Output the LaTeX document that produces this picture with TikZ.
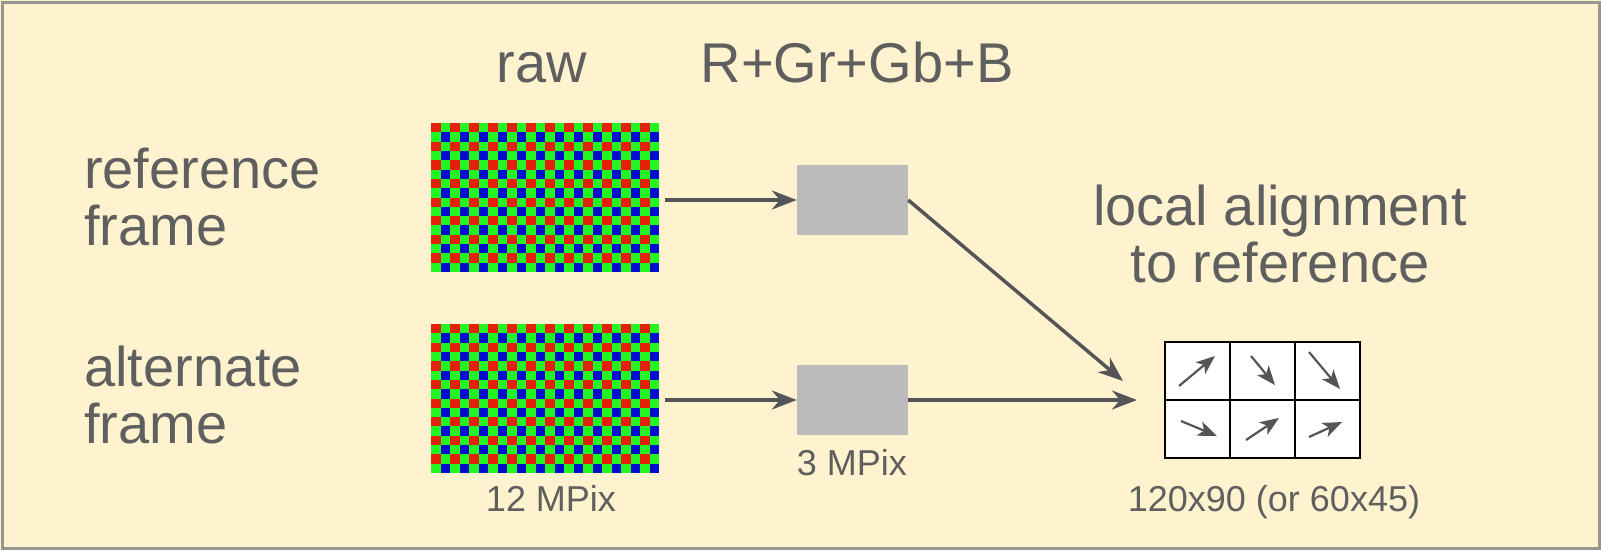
\documentclass[tikz,border=0pt]{standalone}
\usepackage{fontspec}
\setmainfont{Liberation Sans}
\usetikzlibrary{arrows.meta,calc}
\definecolor{bg}{RGB}{255,242,206}
\definecolor{frameline}{RGB}{150,150,140}
\definecolor{txt}{RGB}{95,95,95}
\definecolor{arr}{RGB}{85,85,88}
\definecolor{boxgray}{RGB}{187,187,187}
\definecolor{bred}{RGB}{228,32,10}
\definecolor{bgreen}{RGB}{34,245,34}
\definecolor{bblue}{RGB}{0,12,205}
\tikzset{
  biglabel/.style={text=txt, inner sep=0pt, font=\fontsize{56}{57}\selectfont},
  smalllabel/.style={text=txt, inner sep=0pt, font=\fontsize{36}{40}\selectfont},
  sensor/.style={minimum width=228pt, minimum height=149pt, inner sep=0pt, anchor=north west},
  graybox/.style={fill=boxgray, minimum width=111pt, minimum height=70pt, inner sep=0pt},
  flow/.style={draw=arr, line width=3.5pt, -{Stealth[length=25pt, width=19pt, inset=8pt]}},
  motion/.style={draw=arr, line width=2.2pt, -{Stealth[length=19pt, width=15pt, inset=5pt]}},
}
\newcommand{\bayerfill}[1]{%
  \fill[bgreen] (#1.north west) rectangle (#1.south east);
  \foreach \i in {0,2,...,22}{\foreach \j in {0,2,...,14}{
    \fill[bred] ($(#1.north west)+(\i*9.5,\j*9.3125)$) rectangle +(9.5,9.3125);}}
  \foreach \i in {1,3,...,23}{\foreach \j in {1,3,...,15}{
    \fill[bblue] ($(#1.north west)+(\i*9.5,\j*9.3125)$) rectangle +(9.5,9.3125);}}
}
\begin{document}
\begin{tikzpicture}[x=1pt,y=-1pt]
\useasboundingbox (0,0) rectangle (1601,550);
\fill[bg] (0,0) rectangle (1601,550);
\draw[frameline, line width=3pt] (2,2) rectangle (1599,548);

% sensors
\node[sensor] (raw1) at (431,123) {};
\node[sensor] (raw2) at (431,324) {};
\bayerfill{raw1}
\bayerfill{raw2}

% downsampled boxes
\node[graybox] (ds1) at (852.5,200) {};
\node[graybox] (ds2) at (852.5,400) {};

% alignment grid
\node[draw=black, fill=white, line width=2pt, minimum width=195pt, minimum height=116pt, inner sep=0pt] (grid) at (1262.5,400) {};
\draw[black, line width=2pt] (1230,342) -- (1230,458) (1295,342) -- (1295,458) (1165,400) -- (1360,400);
\draw[motion] (1179,386) -- (1215,356);
\draw[motion] (1251,356) -- (1275,385);
\draw[motion] (1309,352) -- (1340,389);
\draw[motion] (1181,421) -- (1217,436);
\draw[motion] (1246,440) -- (1279,418);
\draw[motion] (1309,437) -- (1342,422);

\coordinate (in1) at (1123,381);
\coordinate (in2) at (1137,400);

% connectors
\draw[flow, shorten <=6pt] (raw1.east |- ds1.west) -- (ds1.west);
\draw[flow, shorten <=6pt] (raw2.east |- ds2.west) -- (ds2.west);
\draw[flow] (ds1.east) -- (in1);
\draw[flow] (ds2.east) -- (in2);

% labels (base anchor = baseline of last line)
\node[biglabel, anchor=base] (lraw) at (542,82) {raw};
\node[biglabel, anchor=base] (lsum) at (857,82) {R+Gr+Gb+B};
\node[biglabel, anchor=base west, align=left] (lref) at (84,245) {reference\\frame};
\node[biglabel, anchor=base west, align=left] (lalt) at (84,443) {alternate\\frame};
\node[biglabel, anchor=base, align=center] (lloc) at (1280,282) {local alignment\\to reference};
\node[smalllabel, anchor=base] (l12) at (551,511) {12 MPix};
\node[smalllabel, anchor=base] (l3) at (852,475) {3 MPix};
\node[smalllabel, anchor=base] (lgrid) at (1274,511) {120x90 (or 60x45)};
\end{tikzpicture}
\end{document}
